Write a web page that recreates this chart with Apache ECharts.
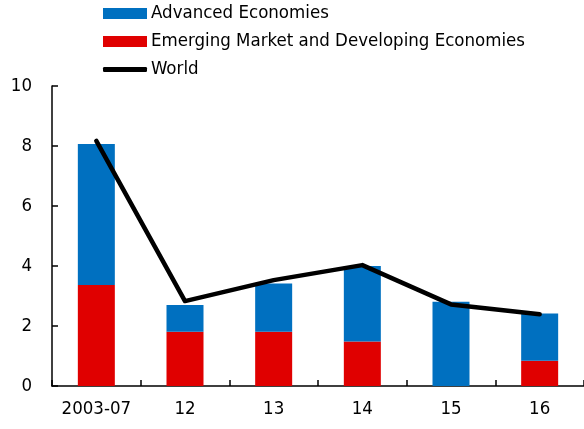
<!DOCTYPE html>
<html>
<head>
<meta charset="utf-8">
<script src="https://cdn.jsdelivr.net/npm/echarts@6/dist/echarts.min.js"></script>
<style>
  html, body { margin: 0; padding: 0; background: #fff; }
  #chart { width: 584px; height: 429px; }
</style>
</head>
<body>
<div id="chart"></div>
<script>
const categories = ['2003-07', '12', '13', '14', '15', '16'];
const emergingValues = [3.37, 1.81, 1.81, 1.48, 0, 0.84];
const advancedValues = [4.70, 0.89, 1.61, 2.52, 2.81, 1.58];
const worldValues = [8.17, 2.83, 3.53, 4.03, 2.72, 2.39];
const yTicks = { min: 0, max: 10, interval: 2 };

const FONT = "'Liberation Sans Narrow', 'DejaVu Sans Condensed', sans-serif";
const BLUE = '#0070C0';
const RED = '#E00000';

const chart = echarts.init(document.getElementById('chart'));

// one legend per row so each can sit exactly where the original has it
function legendRow(name, top, icon, h) {
    return {
        data: [{ name: name, icon: icon, itemStyle: { color: name === 'World' ? '#000' : undefined } }],
        left: 103,
        top: top,
        itemWidth: 44,
        itemHeight: h,
        itemGap: 0,
        padding: 0,
        selectedMode: false,
        textStyle: { fontFamily: FONT, fontSize: 18.5, color: '#000', padding: [0, 0, 0, -1] }
    };
}

chart.setOption({
    animation: false,
    legend: [
        legendRow('Advanced Economies', 4, 'rect', 11),
        legendRow('Emerging Market and Developing Economies', 32, 'rect', 11),
        legendRow('World', 60, 'roundRect', 5)
    ],
    grid: { left: 52, right: 0, top: 86, bottom: 43 },
    xAxis: {
        type: 'category',
        data: categories,
        axisLine: { lineStyle: { color: '#000', width: 1.5 } },
        axisTick: { show: true, inside: true, length: 6, interval: 0, alignWithLabel: false, lineStyle: { color: '#000', width: 1.5 } },
        axisLabel: { fontFamily: FONT, fontSize: 18.5, color: '#000', margin: 14, interval: 0 }
    },
    yAxis: {
        type: 'value',
        min: yTicks.min,
        max: yTicks.max,
        interval: yTicks.interval,
        axisLine: { show: true, lineStyle: { color: '#000', width: 1.5 } },
        axisTick: { show: true, inside: true, length: 6, lineStyle: { color: '#000', width: 1.5 } },
        splitLine: { show: false },
        axisLabel: { fontFamily: FONT, fontSize: 18.5, color: '#000', margin: 20 }
    },
    series: [
        {
            name: 'Emerging Market and Developing Economies',
            type: 'bar',
            stack: 'total',
            barWidth: 37,
            itemStyle: { color: RED },
            data: emergingValues
        },
        {
            name: 'Advanced Economies',
            type: 'bar',
            stack: 'total',
            barWidth: 37,
            itemStyle: { color: BLUE },
            data: advancedValues
        },
        {
            name: 'World',
            type: 'line',
            symbol: 'none',
            z: 5,
            lineStyle: { color: '#000', width: 4.5, cap: 'round', join: 'round' },
            itemStyle: { color: '#000' },
            data: worldValues
        }
    ]
});
</script>
</body>
</html>
